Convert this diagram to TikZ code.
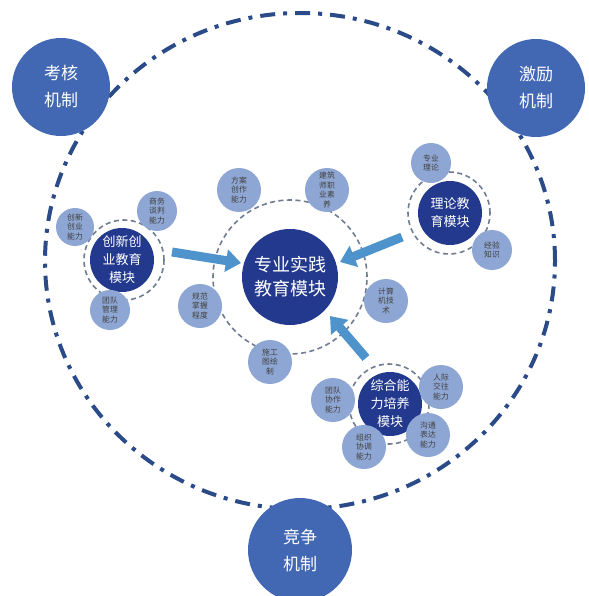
\documentclass[tikz,border=0pt]{standalone}
\usepackage{fontspec}
\setmainfont{Noto Sans CJK SC}
\usetikzlibrary{arrows.meta}
\definecolor{mech}{HTML}{4268B4}
\definecolor{navy}{HTML}{23398E}
\definecolor{sat}{HTML}{8EA6D3}
\definecolor{ringc}{HTML}{6F7C92}
\definecolor{outerc}{HTML}{2B4A88}
\definecolor{arr}{HTML}{4F93CC}
\begin{document}
\begin{tikzpicture}[x=1pt,y=-1pt,
  mechnode/.style={circle, fill=mech, minimum size=98pt, inner sep=0pt, text=white, font=\fontsize{17}{27}\selectfont, align=center},
  coremod/.style={circle, fill=navy, minimum size=96pt, inner sep=0pt, text=white, font=\fontsize{18}{24}\selectfont, align=center},
  submod/.style={circle, fill=navy, minimum size=64pt, inner sep=0pt, text=white, font=\fontsize{13}{18}\selectfont, align=center},
  satnode/.style={circle, fill=sat, minimum size=44pt, inner sep=0pt, text=black!75, font=\fontsize{7.8}{9.5}\selectfont, align=center},
  ringline/.style={ringc, line width=1.6pt, dash pattern=on 5pt off 3.5pt},
  bigarrow/.style={arr, line width=9pt, -{Triangle[width=22pt,length=15pt]}},
  outerline/.style={outerc, line width=4pt, dash pattern=on 15pt off 8pt on 4pt off 8pt}
]
\fill[white] (0,0) rectangle (588,596);
\useasboundingbox (0,0) rectangle (588,596);

% outer dash-dot ring
\draw[outerline] (300,261) ellipse [x radius=255pt, y radius=248pt];

% mechanism nodes
\node[mechnode] (kh) at (61,87) {考核\\机制};
\node[mechnode] (jl) at (536,88) {激励\\机制};
\node[mechnode, minimum size=104pt] (jz) at (300,550) {竞争\\机制};

% dashed rings
\draw[ringline] (290,277) circle [radius=77pt];
\draw[ringline] (124,260) circle [radius=40pt];
\draw[ringline] (449,213) circle [radius=41pt];
\draw[ringline] (389,404) circle [radius=40pt];

% module nodes
\node[coremod] (core) at (290,277) {专业实践\\教育模块};
\node[submod] (cx) at (122,260) {创新创\\业教育\\模块};
\node[submod] (ll) at (450,213) {理论教\\育模块};
\node[submod] (zh) at (390,404) {综合能\\力培养\\模块};

% satellites of core
\node[satnode] (s1) at (239,190) {方案\\创作\\能力};
\node[satnode] (s2) at (327,190) {建筑\\师职\\业素\\养};
\node[satnode] (s3) at (200,306) {规范\\掌握\\程度};
\node[satnode] (s4) at (386,301) {计算\\机技\\术};
\node[satnode] (s5) at (270,362) {施工\\图绘\\制};

% satellites of innovation module
\node[satnode, minimum size=38pt] (c1) at (75,227) {创新\\创业\\能力};
\node[satnode, minimum size=40pt] (c2) at (157,211) {商务\\谈判\\能力};
\node[satnode, minimum size=40pt] (c3) at (110,310) {团队\\管理\\能力};

% satellites of theory module
\node[satnode, minimum size=40pt] (l1) at (431,163) {专业\\理论};
\node[satnode, minimum size=40pt] (l2) at (492,250) {经验\\知识};

% satellites of comprehensive module
\node[satnode] (z1) at (441,387) {人际\\交往\\能力};
\node[satnode] (z2) at (428,435) {沟通\\表达\\能力};
\node[satnode] (z3) at (364,447) {组织\\协调\\能力};
\node[satnode] (z4) at (333,400) {团队\\协作\\能力};

% arrows
\coordinate (a1s) at (172,252);
\coordinate (a1e) at (241,263);
\coordinate (a2s) at (402,237);
\coordinate (a2e) at (340,262);
\coordinate (a3s) at (366,358);
\coordinate (a3e) at (330,316);
\draw[bigarrow] (a1s) -- (a1e);
\draw[bigarrow] (a2s) -- (a2e);
\draw[bigarrow] (a3s) -- (a3e);
\end{tikzpicture}
\end{document}
